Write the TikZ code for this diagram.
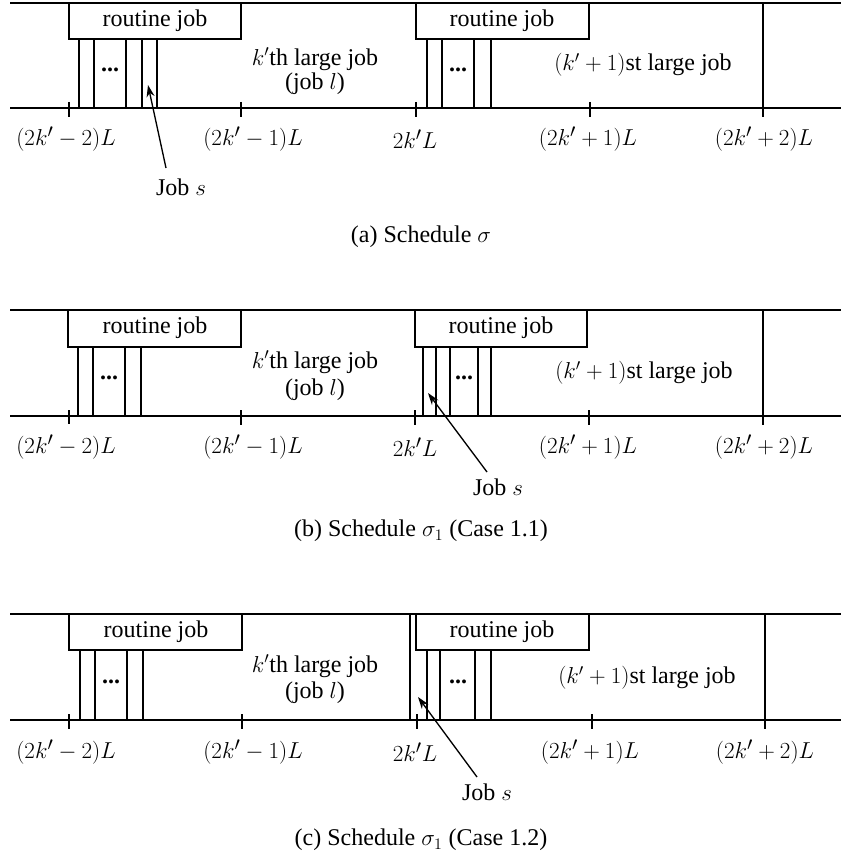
\documentclass[tikz,border=0pt]{standalone}
\usepackage{fontspec}
\setmainfont{Liberation Serif}
\usetikzlibrary{arrows.meta}
\begin{document}
\begin{tikzpicture}[x=0.75pt,y=-0.75pt,
  ln/.style={line width=0.9pt,black},
  boldtick/.style={line width=1.8pt,black},
  txt/.style={font=\fontsize{18}{21}\selectfont,inner sep=0pt,anchor=center},
  lbl/.style={font=\fontsize{19}{22}\selectfont,inner sep=0pt,anchor=center},
  ptr/.style={line width=1pt,-{Stealth[length=9pt,width=6pt]}}]
\useasboundingbox (0,0) rectangle (841,863);

% ================= (a) =================
\draw[ln] (10,3) -- (841,3);
\draw[ln] (10,108) -- (841,108);
\draw[ln] (69,3) -- (69,39) -- (241,39) -- (241,3);
\draw[ln] (416,3) -- (416,39) -- (589,39) -- (589,3);
\foreach \x in {79,94,126,142,157} \draw[ln] (\x,39) -- (\x,108);
\foreach \x in {427,442,474,491} \draw[ln] (\x,39) -- (\x,108);
\draw[ln] (763,3) -- (763,117);
\foreach \x in {69,241,416,590} \draw[ln] (\x,102) -- (\x,117);
\node[txt] (ar1) at (155,21) {routine job};
\node[txt] (ar2) at (502,21) {routine job};
\node[txt] (ad1) at (110,70) {\textbf{...}};
\node[txt] (ad2) at (458,70) {\textbf{...}};
\node[txt] (ak1) at (315,59) {$k'$th large job};
\node[txt] (ak2) at (315,84) {(job $l$)};
\node[txt] (ak3) at (643,65) {$(k'+1)$st large job};
\node[lbl] (al1) at (66,139) {$(2k'-2)L$};
\node[lbl] (al2) at (253,139) {$(2k'-1)L$};
\node[lbl] (al3) at (415,139) {$2k'L$};
\node[lbl] (al4) at (588,139) {$(2k'+1)L$};
\node[lbl] (al5) at (764,139) {$(2k'+2)L$};
\node[txt] (ajs) at (181,187) {Job $s$};
\coordinate (atip) at (148,85);
\draw[ptr] (166,168) -- (atip);
\node[txt] (acap) at (421,237) {(a) Schedule $\sigma$};

% ================= (b) =================
\draw[ln] (10,310) -- (841,310);
\draw[ln] (10,416) -- (841,416);
\draw[ln] (68,310) -- (68,347) -- (241,347) -- (241,310);
\draw[ln] (415,310) -- (415,347) -- (587,347) -- (587,310);
\foreach \x in {78,93,125,141} \draw[ln] (\x,347) -- (\x,416);
\foreach \x in {423,436,450,478,491} \draw[ln] (\x,347) -- (\x,416);
\draw[ln] (763,310) -- (763,425);
\draw[boldtick] (69,410) -- (69,424);
\foreach \x in {241,415,589} \draw[ln] (\x,410) -- (\x,425);
\node[txt] (br1) at (155,328) {routine job};
\node[txt] (br2) at (501,328) {routine job};
\node[txt] (bd1) at (109,378) {\textbf{...}};
\node[txt] (bd2) at (464,378) {\textbf{...}};
\node[txt] (bk1) at (315,362) {$k'$th large job};
\node[txt] (bk2) at (315,390) {(job $l$)};
\node[txt] (bk3) at (644,373) {$(k'+1)$st large job};
\node[lbl] (bl1) at (66,447) {$(2k'-2)L$};
\node[lbl] (bl2) at (253,447) {$(2k'-1)L$};
\node[lbl] (bl3) at (415,447) {$2k'L$};
\node[lbl] (bl4) at (588,447) {$(2k'+1)L$};
\node[lbl] (bl5) at (764,447) {$(2k'+2)L$};
\node[txt] (bjs) at (498,487) {Job $s$};
\coordinate (btip) at (428,393);
\draw[ptr] (487,472) -- (btip);
\node[txt] (bcap) at (421,531) {(b) Schedule $\sigma_1$ (Case 1.1)};

% ================= (c) =================
\draw[ln] (10,614) -- (841,614);
\draw[ln] (10,720) -- (841,720);
\draw[ln] (69,614) -- (69,650) -- (242,650) -- (242,614);
\draw[ln] (416,614) -- (416,650) -- (589,650) -- (589,614);
\draw[ln] (410,614) -- (410,720);
\foreach \x in {80,95,127,143} \draw[ln] (\x,650) -- (\x,720);
\foreach \x in {427,440,475,491} \draw[ln] (\x,650) -- (\x,720);
\draw[ln] (765,614) -- (765,729);
\foreach \x in {69,242,417,592} \draw[ln] (\x,714) -- (\x,729);
\node[txt] (cr1) at (156,632) {routine job};
\node[txt] (cr2) at (502,632) {routine job};
\node[txt] (cd1) at (111,682) {\textbf{...}};
\node[txt] (cd2) at (458,682) {\textbf{...}};
\node[txt] (ck1) at (315,666) {$k'$th large job};
\node[txt] (ck2) at (315,693) {(job $l$)};
\node[txt] (ck3) at (647,678) {$(k'+1)$st large job};
\node[lbl] (cl1) at (66,752) {$(2k'-2)L$};
\node[lbl] (cl2) at (253,752) {$(2k'-1)L$};
\node[lbl] (cl3) at (415,752) {$2k'L$};
\node[lbl] (cl4) at (590,752) {$(2k'+1)L$};
\node[lbl] (cl5) at (765,752) {$(2k'+2)L$};
\node[txt] (cjs) at (487,792) {Job $s$};
\coordinate (ctip) at (418,697);
\draw[ptr] (477,777) -- (ctip);
\node[txt] (ccap) at (421,840) {(c) Schedule $\sigma_1$ (Case 1.2)};
\end{tikzpicture}
\end{document}
